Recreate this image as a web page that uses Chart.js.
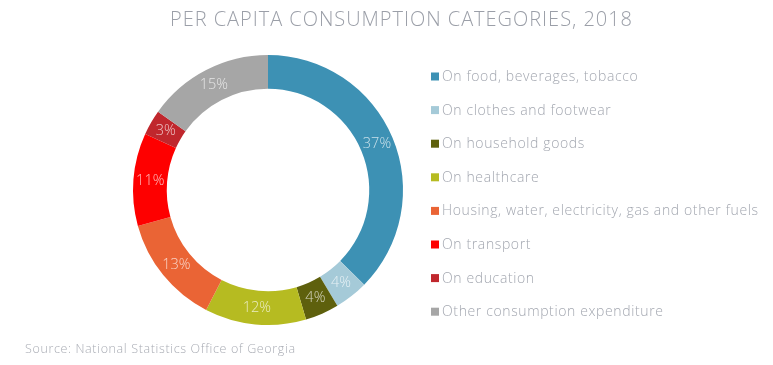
<!DOCTYPE html>
<html>
<head>
<meta charset="utf-8">
<script src="https://cdn.jsdelivr.net/npm/chart.js@4/dist/chart.umd.min.js"></script>
<style>
html,body{margin:0;padding:0;background:#fff;}
#wrap{position:relative;width:773px;height:365px;}
</style>
</head>
<body>
<div id="wrap"><canvas id="c" width="773" height="365"></canvas></div>
<script>
const title = "PER CAPITA CONSUMPTION CATEGORIES, 2018";
const source = "Source: National Statistics Office of Georgia";
const categories = [
  "On food, beverages, tobacco",
  "On clothes and footwear",
  "On household goods",
  "On healthcare",
  "Housing, water, electricity, gas and other fuels",
  "On transport",
  "On education",
  "Other consumption expenditure"
];
const shares = [37, 4, 4, 12, 13, 11, 3, 15];
const colors = ["#3d91b4", "#a5cad8", "#5e600d", "#b6bb21", "#ea6435", "#fe0000", "#c0272d", "#a6a6a6"];

const FONT = "'Open Sans', Lato, sans-serif";
const TEXT_GREY = "#a3a7b0";

function spacingFor(ctx, text, target) {
  ctx.letterSpacing = "0px";
  const w = ctx.measureText(text).width;
  return (target - w) / Math.max(1, text.length - 1);
}

const overlay = {
  id: 'overlay',
  afterDraw(chart) {
    const ctx = chart.ctx;
    ctx.save();
    // slice labels
    const meta = chart.getDatasetMeta(0);
    ctx.font = "300 14.5px " + FONT;
    ctx.fillStyle = "rgba(255,255,255,0.72)";
    ctx.textAlign = "center";
    ctx.textBaseline = "middle";
    meta.data.forEach((arc, i) => {
      const p = arc.getCenterPoint();
      ctx.fillText(chart.data.datasets[0].data[i] + "%", p.x, p.y);
    });
    // title
    ctx.textAlign = "left";
    ctx.font = "300 20px " + FONT;
    ctx.fillStyle = "#9b9fa8";
    let ls = spacingFor(ctx, title, 462);
    ctx.letterSpacing = ls + "px";
    ctx.fillText(title, 170, 20);
    // legend
    ctx.font = "300 14px " + FONT;
    ls = spacingFor(ctx, categories[4], 316);
    ctx.letterSpacing = ls + "px";
    const x0 = 431, y0 = 77, step = 33.6;
    chart.data.labels.forEach((lab, i) => {
      const y = y0 + i * step;
      ctx.fillStyle = colors[i];
      ctx.fillRect(x0, y - 4.5, 8, 8);
      ctx.fillStyle = TEXT_GREY;
      ctx.fillText(lab, x0 + 11, y);
    });
    // source
    ctx.font = "300 12.5px " + FONT;
    ls = spacingFor(ctx, source, 270);
    ctx.letterSpacing = ls + "px";
    ctx.fillStyle = "#a9acb4";
    ctx.fillText(source, 25, 349);
    ctx.restore();
  }
};

new Chart(document.getElementById('c'), {
  type: 'doughnut',
  data: {
    labels: categories,
    datasets: [{
      data: shares,
      backgroundColor: colors,
      borderWidth: 0
    }]
  },
  options: {
    responsive: false,
    animation: false,
    cutout: '75%',
    layout: { padding: { left: 133, right: 370, top: 55, bottom: 40 } },
    plugins: { legend: { display: false }, tooltip: { enabled: false }, title: { display: false } }
  },
  plugins: [overlay]
});
</script>
</body>
</html>
